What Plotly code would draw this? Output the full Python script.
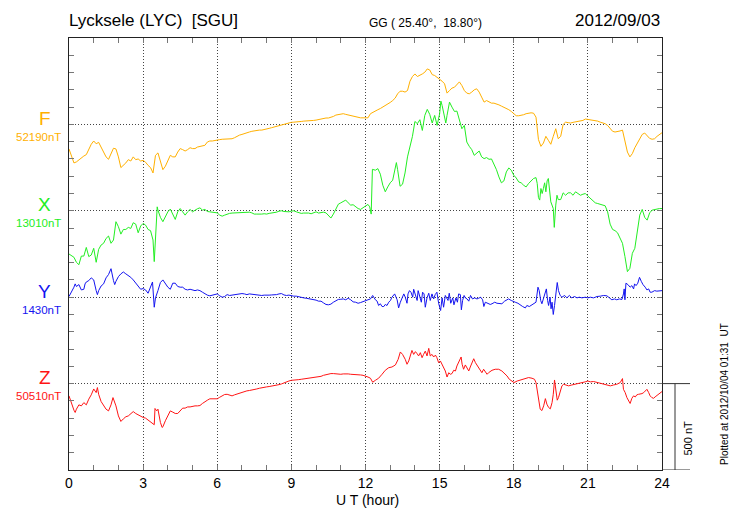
import plotly.graph_objects as go

# ---------------- text ----------------
STATION = "Lycksele (LYC) \u00a0[SGU]"
COORDS = "GG ( 25.40\u00b0, \u00a018.80\u00b0)"
DATE = "2012/09/03"
PLOTTED = "Plotted at 2012/10/04 01:31 \u00a0UT"
X_TITLE = "U T (hour)"
SCALE_LABEL = "500 nT"

# ---------------- components ----------------
COMPONENTS = ["F", "X", "Y", "Z"]
BASELINES_NT = [52190, 13010, 1430, 50510]
COLORS = ["#FFB000", "#22EE22", "#1414F0", "#FF1414"]
SCALE_NT = 500

# ---------------- data (nT deviation from the printed baseline) ----------------
F_T = [i / 10 for i in range(241)]
F_DEV = [
    -142, -185, -223, -217, -204, -192, -183, -175, -146, -115,
    -96, -112, -104, -135, -160, -188, -202, -173, -138, -142,
    -188, -250, -237, -223, -204, -212, -188, -204, -200, -212,
    -208, -219, -237, -250, -281, -179, -165, -217, -262, -242,
    -208, -179, -188, -188, -160, -140, -146, -154, -146, -135,
    -140, -140, -131, -127, -127, -121, -102, -96, -96, -92,
    -90, -88, -86, -85, -83, -85, -83, -77, -69, -62,
    -58, -52, -48, -44, -40, -37, -35, -33, -33, -31,
    -27, -23, -19, -15, -12, -8, -2, 4, 8, 10,
    12, 13, 13, 15, 17, 19, 19, 19, 21, 23,
    25, 29, 31, 35, 37, 37, 40, 46, 54, 58,
    62, 62, 58, 54, 52, 50, 46, 42, 38, 38,
    37, 38, 62, 71, 77, 85, 92, 100, 110, 119,
    127, 138, 152, 177, 192, 192, 187, 196, 250, 277,
    292, 277, 283, 292, 302, 321, 315, 288, 283, 273,
    264, 250, 235, 181, 196, 210, 215, 231, 246, 225,
    196, 181, 177, 187, 200, 206, 187, 158, 129, 138,
    129, 123, 123, 119, 113, 106, 100, 94, 85, 75,
    62, 50, 50, 52, 56, 62, 65, 67, 65, 42,
    -88, -127, -108, -69, -92, -115, -69, -25, -83, -69,
    0, 13, 10, 8, 12, 15, 17, 19, 23, 31,
    29, 25, 23, 23, 19, 13, 10, 4, -6, -25,
    -40, -44, -42, -38, -33, -92, -160, -188, -169, -135,
    -112, -88, -58, -50, -63, -81, -86, -83, -69, -58,
    -48,
]

X_T = [
    0.0, 0.1, 0.2, 0.3, 0.4, 0.5, 0.6, 0.7, 0.8, 0.9,
    1.0, 1.1, 1.2, 1.3, 1.4, 1.5, 1.6, 1.7, 1.8, 1.9,
    2.0, 2.1, 2.2, 2.3, 2.4, 2.5, 2.6, 2.7, 2.8, 2.9,
    3.0, 3.1, 3.2, 3.3, 3.4, 3.45, 3.5, 3.57, 3.6, 3.7, 3.8, 3.9,
    4.0, 4.1, 4.2, 4.3, 4.4, 4.5, 4.6, 4.7, 4.8, 4.9,
    5.0, 5.1, 5.2, 5.3, 5.4, 5.5, 5.6, 5.7, 5.8, 5.9,
    6.0, 6.1, 6.2, 6.3, 6.4, 6.5, 6.6, 6.7, 6.8, 6.9,
    7.0, 7.1, 7.2, 7.3, 7.4, 7.5, 7.6, 7.7, 7.8, 7.9,
    8.0, 8.1, 8.2, 8.3, 8.4, 8.5, 8.6, 8.7, 8.8, 8.9,
    9.0, 9.1, 9.2, 9.3, 9.4, 9.5, 9.6, 9.7, 9.8, 9.9,
    10.0, 10.1, 10.2, 10.3, 10.4, 10.5, 10.6, 10.7, 10.8, 10.9,
    11.0, 11.1, 11.2, 11.3, 11.4, 11.5, 11.6, 11.7, 11.8, 11.9,
    12.0, 12.1, 12.17, 12.23, 12.28, 12.4, 12.5, 12.6, 12.7, 12.8, 12.9,
    13.0, 13.1, 13.2, 13.25, 13.3, 13.4, 13.5, 13.6, 13.7, 13.8, 13.9,
    14.0, 14.1, 14.2, 14.3, 14.4, 14.5, 14.6, 14.7, 14.8, 14.9,
    15.0, 15.05, 15.1, 15.2, 15.25, 15.3, 15.4, 15.5, 15.6, 15.7, 15.8, 15.9,
    16.0, 16.1, 16.2, 16.3, 16.4, 16.5, 16.6, 16.7, 16.8, 16.9,
    17.0, 17.1, 17.2, 17.3, 17.4, 17.5, 17.6, 17.7, 17.8, 17.9,
    18.0, 18.1, 18.2, 18.3, 18.4, 18.5, 18.6, 18.7, 18.8, 18.9, 18.95,
    19.0, 19.05, 19.1, 19.15, 19.2, 19.25, 19.3, 19.35, 19.4, 19.45, 19.5,
    19.6, 19.64, 19.7, 19.75, 19.8, 19.9,
    20.0, 20.1, 20.2, 20.3, 20.4, 20.5, 20.6, 20.7, 20.8, 20.9,
    21.0, 21.1, 21.2, 21.3, 21.4, 21.5, 21.6, 21.7, 21.8, 21.9,
    22.0, 22.1, 22.2, 22.3, 22.4, 22.5, 22.6, 22.7, 22.8, 22.9,
    23.0, 23.1, 23.2, 23.3, 23.4, 23.5, 23.6, 23.7, 23.8, 23.9, 24.0,
]
X_DEV = [
    -250, -258, -269, -298, -312, -262, -262, -212, -265, -256,
    -217, -298, -223, -198, -188, -160, -146, -188, -169, -63,
    -92, -135, -108, -108, -96, -102, -69, -77, -127, -88,
    -73, -83, -108, -115, -169, -294, -140, 23, 4, -38, -63, -31,
    -6, 10, -25, -50, -6, 13, -6, -25, -6, 8,
    -6, 4, 12, 17, 4, 8, -4, -6, -8, -12,
    -12, -25, -31, -25, -19, -15, -13, -12, -10, -10,
    -12, -8, -6, -8, -12, -19, -19, -21, -19, -17,
    -19, -15, -13, -12, -8, -2, 0, -4, -6, -6,
    -2, 0, -6, -12, -15, -13, -12, -13, -17, -12,
    -6, -13, -10, -8, -12, -27, -42, -19, 13, 38,
    46, 52, 62, 46, 33, 35, 23, 13, 8, 19,
    27, 37, 23, -19, 240, 235, 244, 212, 148, 110, 138,
    162, 177, 254, 279, 238, 142, 154, 219, 312, 365, 431,
    517, 504, 527, 465, 552, 587, 558, 508, 552, 494,
    562, 635, 610, 542, 508, 552, 629, 600, 575, 577, 533, 475,
    494, 398, 373, 354, 321, 335, 346, 312, 302, 308,
    298, 300, 273, 238, 196, 162, 173, 225, 248, 235,
    206, 190, 167, 162, 148, 138, 158, 173, 187, 192, 158,
    77, 62, 129, 100, 129, 162, 110, 173, 187, 110, 52,
    13, -96, 33, 90, 65, 65,
    104, 90, 104, 104, 90, 110, 100, 90, 96, 100,
    85, 71, 62, 46, 42, 38, 33, 29, -6, -77,
    -108, -115, -127, -160, -188, -265, -352, -333, -246, -217,
    -131, -25, 8, -38, -54, -12, 4, 8, 12, 13, 13,
]

Y_T = [
    0.0, 0.1, 0.2, 0.25, 0.3, 0.4, 0.5, 0.6, 0.65, 0.7, 0.8, 0.9,
    1.0, 1.1, 1.15, 1.2, 1.3, 1.4, 1.5, 1.6, 1.7, 1.8, 1.85, 1.9,
    2.0, 2.1, 2.2, 2.3, 2.4, 2.5, 2.6, 2.7, 2.8, 2.9,
    3.0, 3.1, 3.2, 3.3, 3.38, 3.45, 3.5, 3.6, 3.7, 3.8, 3.9,
    4.0, 4.1, 4.2, 4.3, 4.4, 4.5, 4.6, 4.7, 4.8, 4.9,
    5.0, 5.1, 5.2, 5.3, 5.4, 5.5, 5.6, 5.7, 5.8, 5.9,
    6.0, 6.1, 6.2, 6.3, 6.4, 6.5, 6.6, 6.7, 6.8, 6.9,
    7.0, 7.1, 7.2, 7.3, 7.4, 7.5, 7.6, 7.7, 7.8, 7.9,
    8.0, 8.1, 8.2, 8.3, 8.4, 8.5, 8.6, 8.7, 8.8, 8.9,
    9.0, 9.1, 9.2, 9.3, 9.4, 9.5, 9.6, 9.7, 9.8, 9.9,
    10.0, 10.1, 10.2, 10.3, 10.4, 10.5, 10.6, 10.7, 10.8, 10.9,
    11.0, 11.1, 11.2, 11.3, 11.4, 11.5, 11.6, 11.7, 11.8, 11.9,
    12.0, 12.10, 12.20, 12.29, 12.40, 12.47, 12.53, 12.60, 12.67, 12.74, 12.80, 12.87, 12.94,
    13.01, 13.07, 13.18, 13.28, 13.34, 13.41, 13.48, 13.55, 13.61, 13.68, 13.72, 13.78, 13.84, 13.91, 13.95,
    14.02, 14.09, 14.13, 14.18, 14.26, 14.31, 14.37, 14.42, 14.49, 14.56, 14.62, 14.69, 14.76, 14.82, 14.89, 14.96,
    15.04, 15.10, 15.16, 15.23, 15.30, 15.34, 15.39, 15.45, 15.53, 15.58, 15.66, 15.72, 15.77, 15.84, 15.88, 15.93, 15.99,
    16.04, 16.11, 16.18, 16.25, 16.33, 16.42, 16.51, 16.58, 16.66, 16.74, 16.79, 16.85, 16.92, 16.98,
    17.05, 17.12, 17.23, 17.32, 17.42, 17.52, 17.63, 17.73, 17.79, 17.90,
    18.01, 18.06, 18.17, 18.27, 18.36, 18.47, 18.53, 18.63, 18.74, 18.84, 18.90, 18.98,
    19.03, 19.09, 19.14, 19.21, 19.28, 19.32, 19.37, 19.41, 19.47, 19.51, 19.55, 19.60, 19.65, 19.71, 19.76, 19.81, 19.88, 19.95,
    20.06, 20.15, 20.25, 20.35, 20.46, 20.56, 20.65, 20.76, 20.89,
    21.00, 21.10, 21.23, 21.37, 21.50, 21.64, 21.77, 21.86, 21.97,
    22.08, 22.17, 22.27, 22.38, 22.44, 22.47, 22.50, 22.54, 22.62, 22.71, 22.78, 22.85, 22.89, 22.95,
    23.02, 23.09, 23.16, 23.23, 23.32, 23.39, 23.46, 23.52, 23.59, 23.70, 23.79, 23.89, 24.00,
]
Y_DEV = [
    4, 29, 58, 77, 62, 73, 42, 46, 77, 88, 96, 112,
    100, 38, 15, 38, 65, 77, 112, 131, 165, 96, 73, 92,
    119, 135, 146, 135, 127, 115, 100, 81, 65, 46,
    50, 42, 23, 54, 88, -58, -4, 38, 85, 100, 77,
    58, 46, 81, 81, 62, 58, 58, 46, 42, 46,
    42, 38, 42, 38, 29, 19, 12, 8, 12, 19,
    19, 8, 0, 4, 15, 10, 13, 15, 19, 19,
    21, 19, 15, 19, 17, 13, 12, 10, 10, 12,
    10, 12, 13, 13, 15, 19, 21, 13, 10, 12,
    8, 6, 6, 2, -4, -4, -6, -8, -12, -13,
    -17, -23, -23, -33, -42, -44, -40, -29, -19, -13,
    -12, -10, -15, -6, -15, -27, -29, -35, -31, -27,
    -23, -15, -10, 10, -15, -23, -48, -38, -54, -54, -42, -48, -29,
    -19, 0, 19, -15, -62, -29, -4, 19, 0, -35, 19, 38, 29, 0, 46,
    19, -19, 38, 10, -29, 29, 19, -58, -4, 23, -19, 19, -10, 15, 29, -35,
    -77, -4, -58, 10, -10, -19, 23, -35, -4, -44, -4, -29, 19, 15, -73, -19, 10,
    -4, -10, -23, 10, -10, -4, -10, -6, 0, -15, -54, -29, -35, -38,
    -42, -38, -29, -35, -38, -38, -23, -15, -10, -19,
    -23, -29, -35, -48, -54, -62, -48, -54, -44, -38, -29, 58,
    38, -19, -38, -4, 38, 48, -19, -48, 0, -67, -29, -100, -48, 19, 85, 38, 10, 0,
    10, -4, 10, -4, 4, -4, 0, -4, 0,
    -4, 0, -4, 4, 6, 10, 8, -4, -15,
    -10, -15, -10, -13, 19, 48, -15, 81, 73, 58, 67, 48, 77, 67,
    81, 115, 92, 73, 58, 42, 48, 29, 29, 38, 35, 38, 38,
]

Z_T = [
    0.0, 0.1, 0.2, 0.25, 0.3, 0.4, 0.5, 0.6, 0.7, 0.8, 0.9,
    1.0, 1.1, 1.15, 1.2, 1.3, 1.4, 1.5, 1.6, 1.7, 1.78, 1.9,
    2.0, 2.1, 2.2, 2.3, 2.4, 2.5, 2.6, 2.7, 2.8, 2.9,
    3.0, 3.1, 3.2, 3.3, 3.4, 3.45, 3.48, 3.55, 3.6, 3.7, 3.77, 3.8, 3.9,
    4.0, 4.1, 4.2, 4.3, 4.4, 4.5, 4.6, 4.7, 4.8, 4.9,
    5.0, 5.1, 5.2, 5.3, 5.4, 5.5, 5.6, 5.7, 5.8, 5.9,
    6.0, 6.1, 6.2, 6.3, 6.4, 6.5, 6.6, 6.7, 6.8, 6.9,
    7.0, 7.1, 7.2, 7.3, 7.4, 7.5, 7.6, 7.7, 7.8, 7.9,
    8.0, 8.1, 8.2, 8.3, 8.4, 8.5, 8.6, 8.7, 8.8, 8.9,
    9.0, 9.1, 9.2, 9.3, 9.4, 9.5, 9.6, 9.7, 9.8, 9.9,
    10.0, 10.1, 10.2, 10.3, 10.4, 10.5, 10.6, 10.7, 10.8, 10.9,
    11.0, 11.1, 11.2, 11.3, 11.4, 11.5, 11.6, 11.7, 11.8, 11.9,
    12.0, 12.10, 12.20, 12.29, 12.40, 12.53, 12.67, 12.80, 12.94,
    13.07, 13.21, 13.32, 13.41, 13.50, 13.61, 13.68, 13.75, 13.82, 13.88, 13.95,
    14.02, 14.09, 14.15, 14.22, 14.29, 14.35, 14.42, 14.49, 14.56, 14.62, 14.69, 14.76, 14.83, 14.89, 14.96,
    15.03, 15.10, 15.16, 15.23, 15.30, 15.37, 15.43, 15.50, 15.57, 15.64, 15.70, 15.77, 15.87, 15.91, 15.97,
    16.04, 16.11, 16.18, 16.24, 16.31, 16.38, 16.45, 16.51, 16.58, 16.65, 16.71, 16.78, 16.85, 16.92, 16.98,
    17.05, 17.12, 17.25, 17.39, 17.52, 17.63, 17.73, 17.82, 17.93,
    18.01, 18.14, 18.33, 18.47, 18.60, 18.74, 18.84, 18.90, 18.95,
    19.01, 19.07, 19.14, 19.21, 19.28, 19.34, 19.41, 19.48, 19.55, 19.60, 19.65, 19.71, 19.76, 19.81, 19.88, 19.95,
    20.02, 20.09, 20.22, 20.35, 20.49, 20.62, 20.76, 20.89,
    21.00, 21.10, 21.23, 21.37, 21.50, 21.64, 21.77, 21.91,
    22.04, 22.17, 22.31, 22.40, 22.44, 22.51, 22.58, 22.65, 22.71, 22.78, 22.85, 22.92, 22.98,
    23.05, 23.12, 23.19, 23.26, 23.32, 23.39, 23.46, 23.52, 23.59, 23.66, 23.72, 23.86, 24.00,
]
Z_DEV = [
    -71, -119, -154, -167, -148, -123, -129, -110, -123, -90, -65,
    -31, -52, -23, -62, -104, -123, -148, -158, -123, -81, -129,
    -187, -219, -204, -192, -187, -173, -162, -173, -181, -187,
    -196, -200, -212, -219, -235, -238, -144, -158, -148, -225, -254, -250, -215,
    -181, -158, -165, -173, -173, -154, -142, -142, -135, -135,
    -131, -129, -129, -127, -115, -104, -96, -88, -87, -87,
    -88, -79, -69, -63, -62, -65, -71, -65, -60, -54,
    -50, -46, -42, -40, -38, -35, -31, -27, -23, -21,
    -19, -17, -15, -12, -8, -6, -2, 4, 12, 15,
    19, 19, 21, 23, 25, 27, 29, 31, 33, 35,
    35, 38, 42, 48, 52, 56, 58, 58, 56, 56,
    54, 56, 58, 56, 54, 54, 54, 52, 50, 48,
    44, 38, 31, 8, 19, 31, 54, 77, 92,
    96, 108, 140, 183, 169, 140, 112, 131, 169, 192, 169,
    185, 173, 160, 179, 150, 169, 188, 160, 204, 160, 169, 154, 165, 150, 121,
    131, 108, 92, 73, 38, 63, 54, 58, 77, 73, 102, 121, 154, 112, 83,
    108, 92, 73, 96, 121, 144, 121, 108, 96, 83, 63, 83, 69, 54, 63,
    69, 77, 83, 83, 73, 58, 44, 25, 12,
    6, 15, 25, 31, 35, 31, 25, 6, -42,
    -119, -148, -156, -129, -87, -119, -138, -146, -110, -62, 21, -42, -96, -81, -42, -13,
    -4, -8, -13, -8, -4, 0, 6, 10,
    15, 10, 12, 6, 0, -4, -8, -13,
    -8, -4, 6, 29, -33, -52, -81, -100, -115, -85, -71, -77, -65,
    -62, -62, -58, -52, -42, -33, -52, -71, -81, -85, -77, -62, -46,
]

SERIES = [(F_T, F_DEV), (X_T, X_DEV), (Y_T, Y_DEV), (Z_T, Z_DEV)]

# ---------------- figure geometry ----------------
FONT = "Liberation Sans, Arial, Helvetica, sans-serif"
W, H = 730, 520
ML, MR, MT, MB = 69, 68, 38, 50
PW, PH = W - ML - MR, H - MT - MB
N = len(COMPONENTS)
Y_MAX = SCALE_NT * (N + 1)


def px_x(px):
    """page x pixel -> paper x"""
    return (px - ML) / PW


def px_y(py):
    """page y pixel -> paper y"""
    return (H - MB - py) / PH


NT_PER_PX = Y_MAX / PH

fig = go.Figure()
for i, (name, (t, dev)) in enumerate(zip(COMPONENTS, SERIES)):
    offset = SCALE_NT * (N - i)
    fig.add_trace(go.Scatter(
        x=t, y=[offset + v for v in dev], mode="lines", name=name,
        line=dict(color=COLORS[i], width=1), hoverinfo="skip", showlegend=False,
    ))

annotations = []
for i, name in enumerate(COMPONENTS):
    offset = SCALE_NT * (N - i)
    annotations.append(dict(
        text=name, xref="paper", yref="y", x=px_x(44.5), y=offset + 6 * NT_PER_PX,
        xanchor="center", yanchor="middle", showarrow=False,
        font=dict(family=FONT, size=19, color=COLORS[i]),
    ))
    annotations.append(dict(
        text=f"{BASELINES_NT[i]}nT", xref="paper", yref="y", x=px_x(62.5),
        y=offset - 12.5 * NT_PER_PX, xanchor="right", yanchor="middle", showarrow=False,
        font=dict(family=FONT, size=11.5, color=COLORS[i]),
    ))

annotations += [
    dict(text=STATION, xref="paper", yref="paper", x=px_x(67), y=px_y(20.5),
         xanchor="left", yanchor="middle", showarrow=False,
         font=dict(family=FONT, size=17, color="black")),
    dict(text=COORDS, xref="paper", yref="paper", x=px_x(425), y=px_y(22.5),
         xanchor="center", yanchor="middle", showarrow=False,
         font=dict(family=FONT, size=12, color="black")),
    dict(text=DATE, xref="paper", yref="paper", x=px_x(662), y=px_y(20.5),
         xanchor="right", yanchor="middle", showarrow=False,
         font=dict(family=FONT, size=17, color="black")),
    dict(text=X_TITLE, xref="paper", yref="paper", x=px_x(367), y=px_y(500),
         xanchor="center", yanchor="middle", showarrow=False,
         font=dict(family=FONT, size=14, color="black")),
    dict(text=SCALE_LABEL, xref="paper", yref="paper", x=px_x(687.5), y=px_y(438),
         xanchor="center", yanchor="middle", showarrow=False, textangle=-90,
         font=dict(family=FONT, size=11, color="black")),
    dict(text=PLOTTED, xref="paper", yref="paper", x=px_x(724), y=px_y(394),
         xanchor="center", yanchor="middle", showarrow=False, textangle=-90,
         font=dict(family=FONT, size=10, color="black")),
]

bar_line = dict(color="#333333", width=1)
shapes = [
    dict(type="line", xref="paper", yref="y", x0=1.0, x1=px_x(690),
         y0=SCALE_NT, y1=SCALE_NT, line=bar_line),
    dict(type="line", xref="paper", yref="y", x0=1.0, x1=px_x(690),
         y0=0, y1=0, line=bar_line),
    dict(type="line", xref="paper", yref="y", x0=px_x(675), x1=px_x(675),
         y0=0, y1=SCALE_NT, line=bar_line),
]

axis_common = dict(
    showline=True, linecolor="#222222", linewidth=1, mirror="ticks",
    ticks="inside", ticklen=5, tickcolor="#777777", tickwidth=1,
    showgrid=True, gridcolor="#444444", gridwidth=1, griddash="1px,2px",
    zeroline=False, fixedrange=True,
)

fig.update_layout(
    width=W, height=H,
    margin=dict(l=ML, r=MR, t=MT, b=MB, pad=0),
    paper_bgcolor="white", plot_bgcolor="white",
    font=dict(family=FONT, color="black"),
    xaxis=dict(range=[0, 24], tick0=0, dtick=3, tickfont=dict(size=14, color="black"),
               minor=dict(dtick=1, ticks="inside", ticklen=5, tickcolor="#777777", showgrid=False),
               **axis_common),
    yaxis=dict(range=[0, Y_MAX], tick0=0, dtick=SCALE_NT, showticklabels=False,
               minor=dict(dtick=100, ticks="inside", ticklen=5, tickcolor="#777777", showgrid=False),
               **axis_common),
    annotations=annotations,
    shapes=shapes,
    showlegend=False,
)

# The figure is exactly the window size: drop the page's default body margin
# so the chart sits at the top-left corner without scrollbars.
fig.write_html(
    "out.html",
    config={"displayModeBar": False, "staticPlot": True},
    post_script="document.body.style.margin='0';"
                "document.documentElement.style.overflow='hidden';",
)
